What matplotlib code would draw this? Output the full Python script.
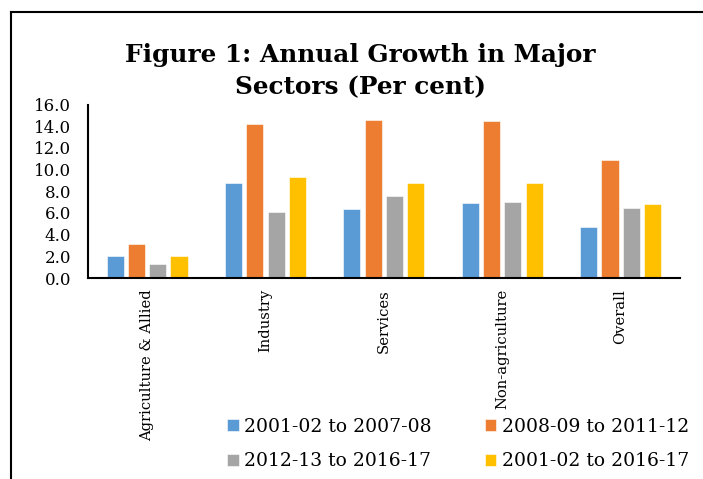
import numpy as np
import matplotlib
matplotlib.use("Agg")
import matplotlib.pyplot as plt
from matplotlib.lines import Line2D

plt.rcParams['font.family'] = ['DejaVu Serif']

sectors = ["Agriculture & Allied", "Industry", "Services", "Non-agriculture", "Overall"]
periods = ["2001-02 to 2007-08", "2008-09 to 2011-12",
           "2012-13 to 2016-17", "2001-02 to 2016-17"]
growth_0108 = [2.0, 8.8, 6.4, 6.9, 4.7]
growth_0912 = [3.1, 14.2, 14.6, 14.5, 10.9]
growth_1317 = [1.3, 6.1, 7.6, 7.0, 6.5]
growth_0117 = [2.0, 9.3, 8.8, 8.8, 6.8]
colors = ["#5B9BD5", "#ED7D31", "#A5A5A5", "#FFC000"]

series = [growth_0108, growth_0912, growth_1317, growth_0117]

fig = plt.figure(figsize=(7.03, 4.79), dpi=100)
ax = fig.add_axes([0.125, 0.4196, 0.842, 0.362])

x = np.arange(len(sectors))
width = 0.145
step = 0.18
for i, (vals, lab, c) in enumerate(zip(series, periods, colors)):
    ax.bar(x + (i - 1.5) * step, vals, width, color=c, label=lab,
           edgecolor="white", linewidth=0.4)

ax.set_xlim(-0.5, len(sectors) - 0.5)
ax.set_ylim(0, 16)
ax.set_yticks(np.arange(0, 16.1, 2))
ax.set_yticklabels([f"{v:.1f}" for v in np.arange(0, 16.1, 2)], fontsize=12)
ax.set_xticks(x)
ax.set_xticklabels(sectors, rotation=90, fontsize=10.6, va="top")
ax.tick_params(axis="x", length=0, pad=8)
ax.tick_params(axis="y", length=0, pad=12)
for s in ["top", "right"]:
    ax.spines[s].set_visible(False)
ax.spines["left"].set_linewidth(1.5)
ax.spines["bottom"].set_linewidth(1.5)

fig.text(0.513, 0.852, "Figure 1: Annual Growth in Major\nSectors (Per cent)",
         ha="center", va="center", fontsize=17.8, fontweight="bold", linespacing=1.42)

# legend filled row by row, as in the original
handles, labels = ax.get_legend_handles_labels()
order = [0, 2, 1, 3]
fig.legend([handles[i] for i in order], [labels[i] for i in order], ncol=2,
           loc="upper left", bbox_to_anchor=(0.323, 0.128), frameon=False,
           fontsize=13.5, handlelength=0.62, handleheight=0.62, handletextpad=0.27,
           columnspacing=2.85, labelspacing=0.88, borderpad=0, borderaxespad=0)

# outer frame (cropped at right and bottom)
fig.add_artist(Line2D([0.015, 0.015], [0.0, 0.975], color="black", lw=1.5,
                      transform=fig.transFigure))
fig.add_artist(Line2D([0.015, 1.0], [0.975, 0.975], color="black", lw=1.5,
                      transform=fig.transFigure))

fig.savefig("out.png", dpi=100)
